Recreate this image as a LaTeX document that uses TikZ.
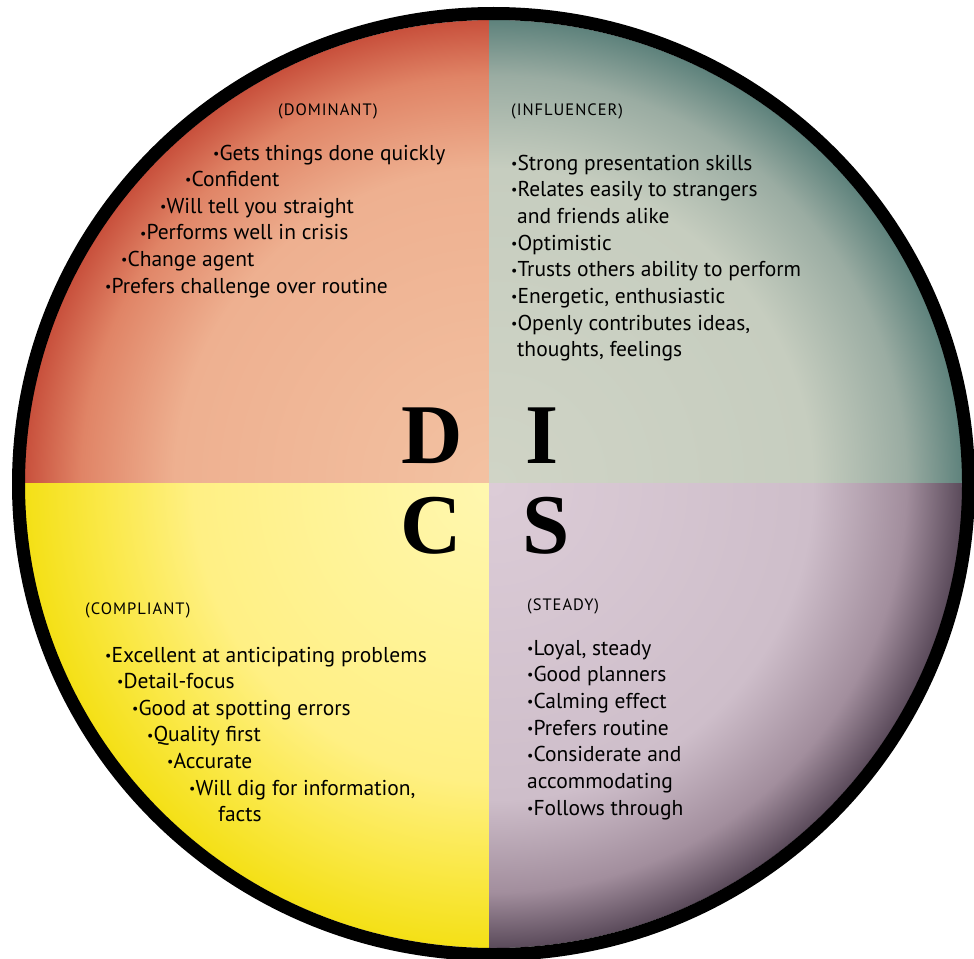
\documentclass[tikz,border=0pt]{standalone}
\usepackage{fontspec}
\usepackage{graphicx}
\setmainfont{PT Sans}
\newfontfamily\discfont{Liberation Serif}
\newfontfamily\headfont[LetterSpace=6]{PT Sans}
\definecolor{dIn}{RGB}{243,194,162}
\definecolor{dMid}{RGB}{238,176,144}
\definecolor{dMid2}{RGB}{224,132,102}
\definecolor{dOut}{RGB}{200,80,60}
\definecolor{iIn}{RGB}{208,212,198}
\definecolor{iMid}{RGB}{198,205,191}
\definecolor{iMid2}{RGB}{154,172,162}
\definecolor{iOut}{RGB}{94,130,124}
\definecolor{cIn}{RGB}{255,247,176}
\definecolor{cMid}{RGB}{255,240,132}
\definecolor{cMid2}{RGB}{250,232,70}
\definecolor{cOut}{RGB}{244,224,22}
\definecolor{sIn}{RGB}{220,204,215}
\definecolor{sMid}{RGB}{206,190,202}
\definecolor{sMid2}{RGB}{162,142,157}
\definecolor{sOut}{RGB}{90,74,90}
\pgfdeclareradialshading{dshade}{\pgfpoint{0bp}{0bp}}{color(0bp)=(dIn); color(17bp)=(dMid); color(22bp)=(dMid2); color(25bp)=(dOut); color(50bp)=(dOut)}
\pgfdeclareradialshading{ishade}{\pgfpoint{0bp}{0bp}}{color(0bp)=(iIn); color(17bp)=(iMid); color(22bp)=(iMid2); color(25bp)=(iOut); color(50bp)=(iOut)}
\pgfdeclareradialshading{cshade}{\pgfpoint{0bp}{0bp}}{color(0bp)=(cIn); color(16bp)=(cMid); color(21bp)=(cMid2); color(25bp)=(cOut); color(50bp)=(cOut)}
\pgfdeclareradialshading{sshade}{\pgfpoint{0bp}{0bp}}{color(0bp)=(sIn); color(17bp)=(sMid); color(22bp)=(sMid2); color(25bp)=(sOut); color(50bp)=(sOut)}
\newcommand{\bul}{\raisebox{1.8pt}{\fontsize{14}{14}\selectfont •}}
\begin{document}
\begin{tikzpicture}[x=1pt,y=-1pt,
  item/.style={anchor=base west, inner sep=0pt, font=\fontsize{21.5}{24}\selectfont},
  head/.style={anchor=base west, inner sep=0pt, font=\headfont\fontsize{16.5}{18}\selectfont},
  bigletter/.style={anchor=base, inner sep=0pt, font=\discfont\bfseries\fontsize{85}{85}\selectfont}]
\useasboundingbox[fill=white] (0,0) rectangle (974,958);
\coordinate (c) at (493.5,484);
\coordinate (m) at (489,483);
\begin{scope}
  \clip (0,0) rectangle (m);
  \shade[shading=dshade] (c) ellipse[x radius=469pt, y radius=464pt];
\end{scope}
\begin{scope}
  \clip (m) rectangle (974,0);
  \shade[shading=ishade] (c) ellipse[x radius=469pt, y radius=464pt];
\end{scope}
\begin{scope}
  \clip (m) rectangle (0,958);
  \shade[shading=cshade] (c) ellipse[x radius=469pt, y radius=464pt];
\end{scope}
\begin{scope}
  \clip (m) rectangle (974,958);
  \shade[shading=sshade] (c) ellipse[x radius=469pt, y radius=464pt];
\end{scope}
\draw[line width=13pt] (c) ellipse[x radius=475pt, y radius=470.5pt];

% DISC letters
\node[bigletter] (D) at (432,463) {D};
\node[bigletter] (I) at (542,463) {I};
\node[bigletter] (C) at (431,553) {C};
\node[bigletter] (S) at (546,553) {S};

% Dominant
\node[head] (dh) at (278,115) {(DOMINANT)};
\node[item] (d1) at (213,160) {\bul Gets things done quickly};
\node[item] (d2) at (185,186.6) {\bul Confident};
\node[item] (d3) at (160,213.2) {\bul Will tell you straight};
\node[item] (d4) at (140,239.8) {\bul Performs well in crisis};
\node[item] (d5) at (121,266.4) {\bul Change agent};
\node[item] (d6) at (105,293) {\bul Prefers challenge over routine};

% Influencer
\node[head] (ih) at (511,115) {(INFLUENCER)};
\node[item] (i1) at (511,170) {\bul Strong presentation skills};
\node[item] (i2) at (511,196.7) {\bul Relates easily to strangers};
\node[item] (i2b) at (517,223.4) {and friends alike};
\node[item] (i3) at (511,250.1) {\bul Optimistic};
\node[item] (i4) at (511,276.8) {\bul Trusts others ability to perform};
\node[item] (i5) at (511,303.5) {\bul Energetic, enthusiastic};
\node[item] (i6) at (511,330.2) {\bul Openly contributes ideas,};
\node[item] (i6b) at (517,356.9) {thoughts, feelings};

% Compliant
\node[head] (ch) at (85,614) {(COMPLIANT)};
\node[item] (c1) at (105,662) {\bul Excellent at anticipating problems};
\node[item] (c2) at (117,688.6) {\bul Detail-focus};
\node[item] (c3) at (132,715.2) {\bul Good at spotting errors};
\node[item] (c4) at (147,741.8) {\bul Quality first};
\node[item] (c5) at (167,768.4) {\bul Accurate};
\node[item] (c6) at (189,795) {\bul Will dig for information,};
\node[item] (c6b) at (218,821.6) {facts};

% Steady
\node[head] (sh) at (527,610) {(STEADY)};
\node[item] (s1) at (527,655) {\bul Loyal, steady};
\node[item] (s2) at (527,681.7) {\bul Good planners};
\node[item] (s3) at (527,708.4) {\bul Calming effect};
\node[item] (s4) at (527,735.1) {\bul Prefers routine};
\node[item] (s5) at (527,761.8) {\bul Considerate and};
\node[item] (s5b) at (527,788.5) {accommodating};
\node[item] (s6) at (527,815.2) {\bul Follows through};
\end{tikzpicture}
\end{document}
